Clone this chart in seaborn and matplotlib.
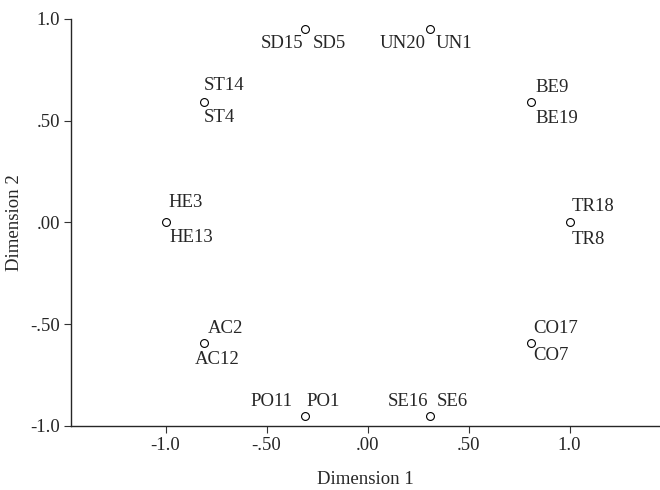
import numpy as np
import pandas as pd
import seaborn as sns
import matplotlib.pyplot as plt

sns.set_style("ticks")
plt.rcParams["font.family"] = ["DejaVu Serif Condensed", "Liberation Serif"]

# MDS configuration, ten stimuli on a circle (each point shares two labels)
dim1 = [1.00, 0.81, 0.31, -0.31, -0.81, -1.00, -0.81, -0.31, 0.31, 0.81]
dim2 = [0.00, 0.59, 0.95, 0.95, 0.59, 0.00, -0.59, -0.95, -0.95, -0.59]
label_a = ["TR18", "BE9", "UN20", "SD15", "ST14", "HE3", "AC2", "PO11", "SE16", "CO17"]
label_b = ["TR8", "BE19", "UN1", "SD5", "ST4", "HE13", "AC12", "PO1", "SE6", "CO7"]

df = pd.DataFrame({"Dimension 1": dim1, "Dimension 2": dim2})

# label offsets in pixels (dx, dy, ha) for first and second label
offsets_a = [(2, 16, "left"), (4, 15, "left"), (-5, -14, "right"), (-2, -14, "right"),
             (0, 17, "left"), (3, 20, "left"), (4, 14, "left"), (-12, 14, "right"),
             (-2, 14, "right"), (2, 14, "left")]
offsets_b = [(2, -17, "left"), (4, -16, "left"), (5, -14, "left"), (8, -14, "left"),
             (0, -15, "left"), (4, -15, "left"), (13, -17, "center"), (2, 14, "left"),
             (7, 14, "left"), (2, -13, "left")]

fig = plt.figure(figsize=(6.6, 4.9), dpi=100)
ax = fig.add_axes([71 / 660, 64 / 490, 589 / 660, 407 / 490])

sns.scatterplot(
    data=df,
    x="Dimension 1",
    y="Dimension 2",
    marker="o",
    s=32,
    facecolor="white",
    edgecolor="black",
    linewidth=0.8,
    clip_on=False,
    zorder=3,
    ax=ax
)

for i in range(len(dim1)):
    for lab, (dx, dy, ha) in ((label_a[i], offsets_a[i]), (label_b[i], offsets_b[i])):
        ax.annotate(
            lab,
            (dim1[i], dim2[i]),
            xytext=(dx * 0.72, dy * 0.72),
            textcoords="offset points",
            ha=ha,
            va="center",
            fontsize=13.5
        )

ax.set_xlim(-1.468, 1.448)
ax.set_ylim(-1.0, 1.0)
ax.set_xticks([-1.0, -0.5, 0.0, 0.5, 1.0])
ax.set_xticklabels(["-1.0", "-.50", ".00", ".50", "1.0"])
ax.set_yticks([-1.0, -0.5, 0.0, 0.5, 1.0])
ax.set_yticklabels(["-1.0", "-.50", ".00", ".50", "1.0"])
ax.tick_params(labelsize=13.5, length=5, width=0.8, color="#333333", pad=3)
ax.set_xlabel("Dimension 1", fontsize=13.5, labelpad=12)
ax.set_ylabel("Dimension 2", fontsize=13.5, labelpad=5)
sns.despine(ax=ax)
for side in ["left", "bottom"]:
    ax.spines[side].set_linewidth(1.0)

fig.savefig("out.png", dpi=100)
